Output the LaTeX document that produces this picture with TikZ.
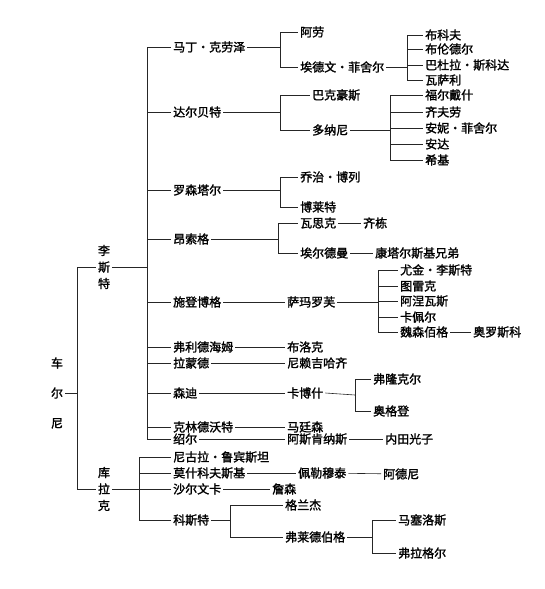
\documentclass[tikz,border=0pt]{standalone}
\usepackage{fontspec}
\newfontfamily\cjk[FakeBold=1.6]{Noto Sans CJK SC}
\usepackage{tikz}
\usetikzlibrary{positioning}
\tikzset{
	namenode/.style={
			anchor=west,
			inner sep=2pt,
			font=\cjk\fontsize{12}{13}\selectfont
		},
	rootnode/.style={
			align=center,
			inner sep=2pt,
			font=\cjk\fontsize{12}{30}\selectfont
		},
	vertnode/.style={
			align=center,
			inner sep=2pt,
			font=\cjk\fontsize{12}{16.5}\selectfont
		},
	link/.style={
			line width=0.6pt,
			black!85
		}
}

\begin{document}
\begin{tikzpicture}[x=1pt,y=-1pt]
  \useasboundingbox (0,0) rectangle (544,589);

  % root and its two pupils
  \node[rootnode] (czerny) at (57,393) {车\\尔\\尼};
  \node[vertnode] (liszt) at (104,267) {李\\斯\\特};
  \node[vertnode] (kullak) at (104,489) {库\\拉\\克};
  \coordinate (jczerny) at (77,393);
  \coordinate (jliszt) at (147,267);
  \coordinate (jkullak) at (139,489);
  \draw[link] (czerny) -- (jczerny);
  \draw[link] (jczerny) |- (liszt.west);
  \draw[link] (jczerny) |- (kullak.west);
  \draw[link] (liszt) -- (jliszt);
  \draw[link] (kullak) -- (jkullak);

  % pupils of Liszt
  \node[namenode] (krause) at (171,47) {马丁・克劳泽};
  \node[namenode] (dalbert) at (171,112) {达尔贝特};
  \node[namenode] (rosenthal) at (171,190) {罗森塔尔};
  \node[namenode] (ansorge) at (171,239) {昂索格};
  \node[namenode] (staven) at (171,302) {施登博格};
  \node[namenode] (friedheim) at (171,347) {弗利德海姆};
  \node[namenode] (lamond) at (171,363) {拉蒙德};
  \node[namenode] (sendi) at (171,393) {森迪};
  \node[namenode] (klind) at (171,427) {克林德沃特};
  \node[namenode] (sauer) at (171,439) {绍尔};
  \foreach \n in {krause,dalbert,rosenthal,ansorge,staven,friedheim,lamond,sendi,klind,sauer}
    \draw[link] (jliszt) |- (\n.west);

  % Krause
  \coordinate (jkrause) at (280,47);
  \node[namenode] (arrau) at (298,32) {阿劳};
  \node[namenode] (efischer) at (298,67) {埃德文・菲舍尔};
  \draw[link] (krause) -- (jkrause);
  \draw[link] (jkrause) |- (arrau.west);
  \draw[link] (jkrause) |- (efischer.west);
  \coordinate (jefischer) at (407,67);
  \node[namenode] (bukof) at (423,35) {布科夫};
  \node[namenode] (brendel) at (423,49) {布伦德尔};
  \node[namenode] (skoda) at (423,65) {巴杜拉・斯科达};
  \node[namenode] (vasary) at (423,80) {瓦萨利};
  \draw[link] (efischer) -- (jefischer);
  \foreach \n in {bukof,brendel,skoda,vasary}
    \draw[link] (jefischer) |- (\n.west);

  % d'Albert
  \coordinate (jdalbert) at (280,112);
  \node[namenode] (backhaus) at (310,95) {巴克豪斯};
  \node[namenode] (dohnanyi) at (310,130) {多纳尼};
  \draw[link] (dalbert) -- (jdalbert);
  \draw[link] (jdalbert) |- (backhaus.west);
  \draw[link] (jdalbert) |- (dohnanyi.west);
  \coordinate (jdohnanyi) at (390,130);
  \node[namenode] (foldes) at (423,95) {福尔戴什};
  \node[namenode] (cziffra) at (423,112) {齐夫劳};
  \node[namenode] (afischer) at (423,128) {安妮・菲舍尔};
  \node[namenode] (anda) at (423,144) {安达};
  \node[namenode] (sebok) at (423,160) {希基};
  \draw[link] (dohnanyi) -- (jdohnanyi);
  \foreach \n in {foldes,cziffra,afischer,anda,sebok}
    \draw[link] (jdohnanyi) |- (\n.west);

  % Rosenthal
  \coordinate (jrosenthal) at (280,190);
  \node[namenode] (boulez) at (298,177) {乔治・博列};
  \node[namenode] (bolet) at (298,207) {博莱特};
  \draw[link] (rosenthal) -- (jrosenthal);
  \draw[link] (jrosenthal) |- (boulez.west);
  \draw[link] (jrosenthal) |- (bolet.west);

  % Ansorge
  \coordinate (jansorge) at (278,239);
  \node[namenode] (wask) at (298,223) {瓦思克};
  \node[namenode] (erdmann) at (298,253) {埃尔德曼};
  \draw[link] (ansorge) -- (jansorge);
  \draw[link] (jansorge) |- (wask.west);
  \draw[link] (jansorge) |- (erdmann.west);
  \node[namenode] (qidong) at (361,223) {齐栋};
  \node[namenode] (kontarsky) at (373,253) {康塔尔斯基兄弟};
  \draw[link] (wask) -- (qidong);
  \draw[link] (erdmann) -- (kontarsky);

  % Stavenhagen
  \node[namenode] (samaroff) at (285,302) {萨玛罗芙};
  \draw[link] (staven) -- (samaroff);
  \coordinate (jsamaroff) at (378,302);
  \node[namenode] (eliszt) at (398,270) {尤金・李斯特};
  \node[namenode] (turek) at (398,286) {图雷克};
  \node[namenode] (arnaldo) at (398,301) {阿涅瓦斯};
  \node[namenode] (kapell) at (398,317) {卡佩尔};
  \node[namenode] (weissenberg) at (398,332) {魏森佰格};
  \draw[link] (samaroff) -- (jsamaroff);
  \foreach \n in {eliszt,turek,arnaldo,kapell,weissenberg}
    \draw[link] (jsamaroff) |- (\n.west);
  \node[namenode] (orozco) at (471,332) {奥罗斯科};
  \draw[link] (weissenberg) -- (orozco);

  % Friedheim, Lamond, Sendi, Klindworth, Sauer
  \node[namenode] (block) at (285,347) {布洛克};
  \node[namenode] (nyiregyhazi) at (285,363) {尼赖吉哈齐};
  \node[namenode] (kabos) at (285,393) {卡博什};
  \node[namenode] (martinsen) at (285,427) {马廷森};
  \node[namenode] (askenase) at (285,439) {阿斯肯纳斯};
  \draw[link] (friedheim) -- (block);
  \draw[link] (lamond) -- (nyiregyhazi);
  \draw[link] (sendi) -- (kabos);
  \draw[link] (klind) -- (martinsen);
  \draw[link] (sauer) -- (askenase);
  \coordinate (jkabos) at (355,395);
  \node[namenode] (frankl) at (371,379) {弗隆克尔};
  \node[namenode] (ogdon) at (371,411) {奥格登};
  \draw[link] (kabos.east) -- (jkabos);
  \draw[link] (jkabos) |- (frankl.west);
  \draw[link] (jkabos) |- (ogdon.west);
  \node[namenode] (uchida) at (383,439) {内田光子};
  \draw[link] (askenase) -- (uchida);

  % pupils of Kullak
  \node[namenode] (rubinstein) at (171,457) {尼古拉・鲁宾斯坦};
  \node[namenode] (moszkowski) at (171,473) {莫什科夫斯基};
  \node[namenode] (scharwenka) at (171,489) {沙尔文卡};
  \node[namenode] (kost) at (171,520) {科斯特};
  \foreach \n in {rubinstein,moszkowski,scharwenka,kost}
    \draw[link] (jkullak) |- (\n.west);
  \node[namenode] (pellemutai) at (296,473) {佩勒穆泰};
  \node[namenode] (adni) at (381,474) {阿德尼};
  \draw[link] (moszkowski) -- (pellemutai);
  \draw[link] (pellemutai) -- (adni);
  \node[namenode] (jansen) at (270,489) {詹森};
  \draw[link] (scharwenka) -- (jansen);

  % Kost
  \coordinate (jkost) at (230,520);
  \node[namenode] (grainger) at (283,505) {格兰杰};
  \node[namenode] (friedberg) at (283,537) {弗莱德伯格};
  \draw[link] (kost) -- (jkost);
  \draw[link] (jkost) |- (grainger.west);
  \draw[link] (jkost) |- (friedberg.west);
  \coordinate (jfriedberg) at (372,537);
  \node[namenode] (marcelos) at (396,520) {马塞洛斯};
  \node[namenode] (flagel) at (396,553) {弗拉格尔};
  \draw[link] (friedberg) -- (jfriedberg);
  \draw[link] (jfriedberg) |- (marcelos.west);
  \draw[link] (jfriedberg) |- (flagel.west);
\end{tikzpicture}
\end{document}
